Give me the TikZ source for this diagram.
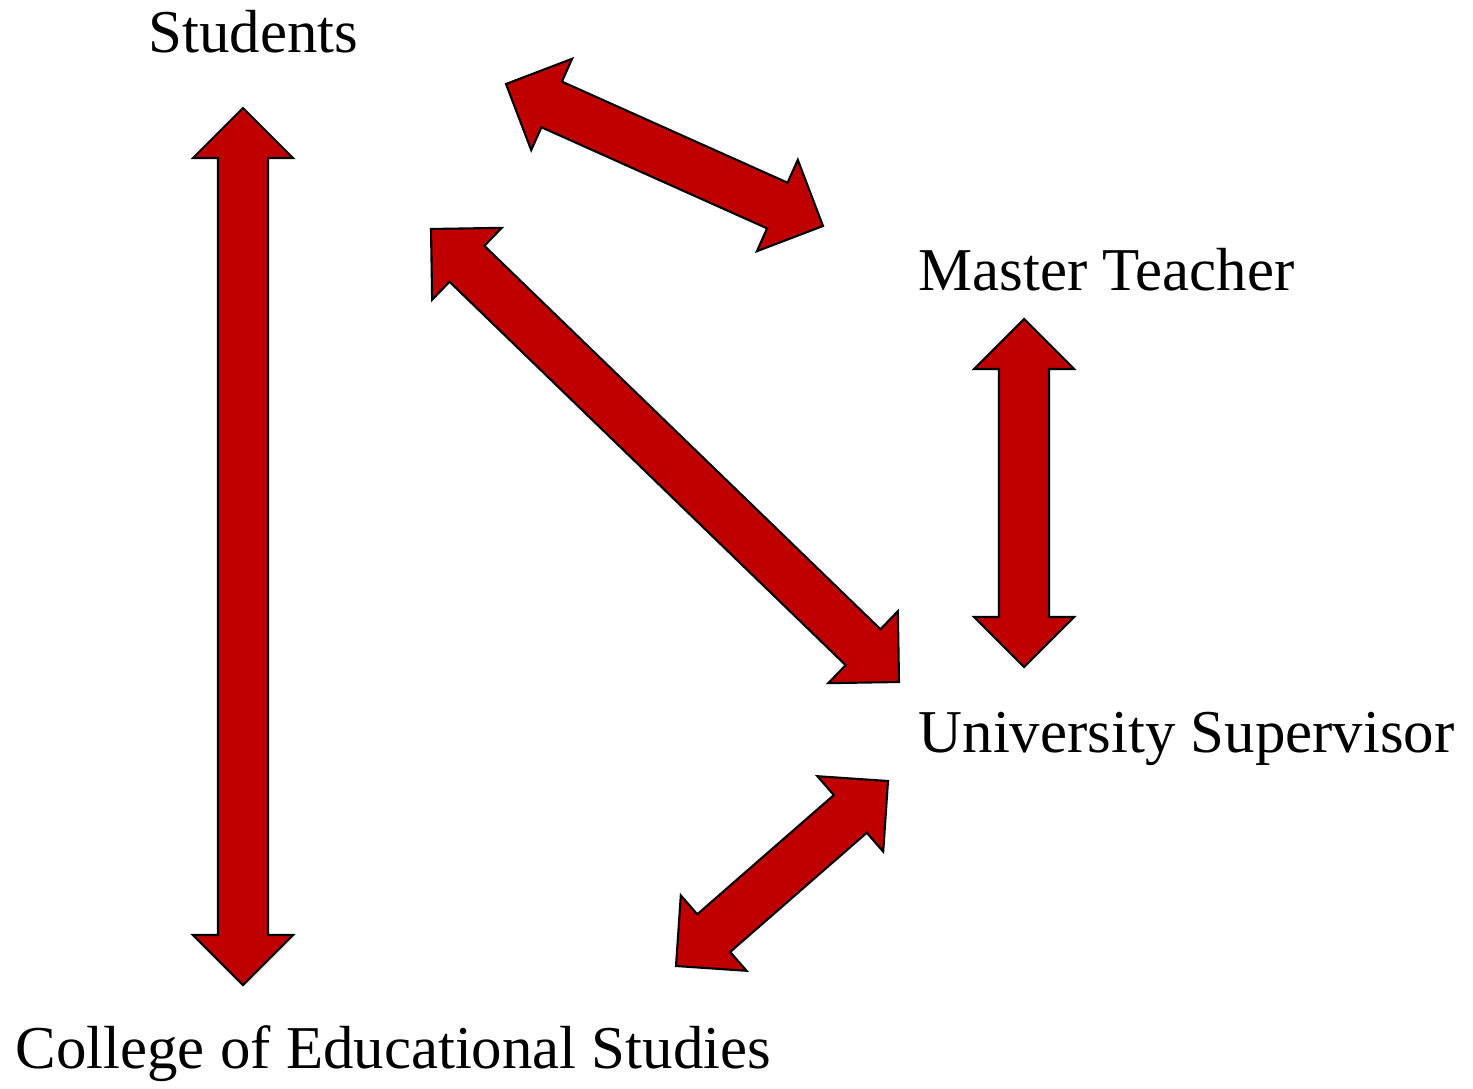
\documentclass[tikz,border=0pt]{standalone}
\usepackage{fontspec}
\setmainfont{Liberation Serif}
\usetikzlibrary{calc}
\definecolor{arrowred}{RGB}{192,0,0}
\tikzset{
  label text/.style={font=\fontsize{17.3}{20}\selectfont, inner sep=0pt, anchor=base west},
  fat arrow/.style={fill=arrowred, draw=black, line width=0.6pt, line join=miter},
}
\begin{document}
\begin{tikzpicture}[x=0.01cm,y=-0.01cm]
\useasboundingbox (0,0) rectangle (1473,1088);

\node[label text] (students) at (148,53) {Students};
\node[label text] (master) at (918,290) {Master Teacher};
\node[label text] (super) at (918,752) {University Supervisor};
\node[label text] (college) at (15,1068) {College of Educational Studies};

% arrow tips
\coordinate (sa) at (243,108);  \coordinate (ca) at (243,985);
\coordinate (sb) at (506,84);   \coordinate (ma) at (823,226);
\coordinate (sc) at (431,229);  \coordinate (ua) at (899,682);
\coordinate (mb) at (1024,319); \coordinate (ub) at (1024,667);
\coordinate (uc) at (888,781);  \coordinate (cb) at (676,966);

\foreach \p / \q in {sa/ca, sb/ma, sc/ua, mb/ub, uc/cb} {
  \draw[fat arrow] (\p)
    -- ($(\p)!.5cm!(\q)!.5cm!90:(\q)$) -- ($(\p)!.5cm!(\q)!.25cm!90:(\q)$)
    -- ($(\q)!.5cm!(\p)!.25cm!-90:(\p)$) -- ($(\q)!.5cm!(\p)!.5cm!-90:(\p)$)
    -- (\q)
    -- ($(\q)!.5cm!(\p)!.5cm!90:(\p)$) -- ($(\q)!.5cm!(\p)!.25cm!90:(\p)$)
    -- ($(\p)!.5cm!(\q)!.25cm!-90:(\q)$) -- ($(\p)!.5cm!(\q)!.5cm!-90:(\q)$)
    -- cycle;
}

\end{tikzpicture}
\end{document}
